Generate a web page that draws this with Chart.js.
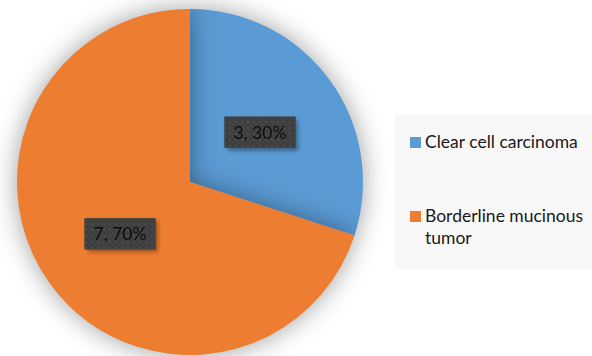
<!DOCTYPE html>
<html><head><meta charset="utf-8">
<script src="https://cdn.jsdelivr.net/npm/chart.js@4/dist/chart.umd.min.js"></script>
<style>
html,body{margin:0;padding:0;background:#fff;}
#wrap{position:relative;width:592px;height:356px;overflow:hidden;}
#legend{position:absolute;left:395px;top:114px;width:197px;height:155px;background:#f8f8f8;font-family:Lato,"Open Sans",sans-serif;font-size:17.5px;color:#1a1a1a;}
.item{position:absolute;left:15px;display:flex;align-items:flex-start;line-height:22px;}
.sw{width:11px;height:11px;margin-top:6px;margin-right:4px;flex:none;}
</style></head><body>
<div id="wrap"><canvas id="c" width="592" height="356"></canvas>
<div id="legend"></div></div>
<script>
const categories = ["Clear cell carcinoma", "Borderline mucinous tumor"];
const counts = [3, 7];
const percents = [30, 70];
const colors = ["#5B9BD5", "#ED7D31"];

const leg = document.getElementById('legend');
const legTops = [17, 91];
categories.forEach((c,i)=>{
  const d=document.createElement('div');d.className='item';d.style.top=legTops[i]+'px';
  d.innerHTML='<span class="sw" style="background:'+colors[i]+'"></span><span style="width:170px">'+c+'</span>';
  leg.appendChild(d);
});

// dotted pattern for label boxes
const pc=document.createElement('canvas');pc.width=6;pc.height=6;
const px=pc.getContext('2d');px.fillStyle='#3f3f3f';px.fillRect(0,0,6,6);
px.fillStyle='#4e4e4e';px.fillRect(1,1,2,2);px.fillRect(4,4,1,1);

const shadowPlugin={id:'pieShadow',
  beforeDatasetsDraw(chart){const ctx=chart.ctx;ctx.save();ctx.shadowColor='rgba(0,0,0,0.38)';ctx.shadowBlur=26;ctx.shadowOffsetX=0;ctx.shadowOffsetY=0;},
  afterDatasetsDraw(chart){chart.ctx.restore();}
};
const labelPlugin={id:'boxLabels',
  afterDatasetsDraw(chart){
    const ctx=chart.ctx;const meta=chart.getDatasetMeta(0);
    ctx.save();
    ctx.font='17.5px Lato, "Open Sans", sans-serif';
    meta.data.forEach((arc,i)=>{
      const p=arc.tooltipPosition();
      const txt=counts[i]+', '+percents[i]+'%';
      const w=ctx.measureText(txt).width+18, h=31;
      const x=p.x-w/2, y=p.y-h/2+1;
      ctx.save();ctx.shadowColor='rgba(0,0,0,0.35)';ctx.shadowBlur=4;ctx.shadowOffsetX=3;ctx.shadowOffsetY=3;
      ctx.fillStyle='#3f3f3f';ctx.fillRect(x,y,w,h);ctx.restore();
      ctx.fillStyle=ctx.createPattern(pc,'repeat');ctx.fillRect(x,y,w,h);
      ctx.fillStyle='#0d0d0d';ctx.textAlign='center';ctx.textBaseline='middle';
      ctx.fillText(txt,p.x,y+h/2+1);
    });
    ctx.restore();
  }
};

new Chart(document.getElementById('c'),{
  type:'pie',
  data:{labels:categories,datasets:[{data:counts,backgroundColor:colors,borderColor:'#ffffff',borderWidth:0}]},
  options:{responsive:false,animation:false,
    layout:{padding:{left:17,right:229,top:9,bottom:1}},
    plugins:{legend:{display:false},tooltip:{enabled:false}}},
  plugins:[shadowPlugin,labelPlugin]
});
</script></body></html>
